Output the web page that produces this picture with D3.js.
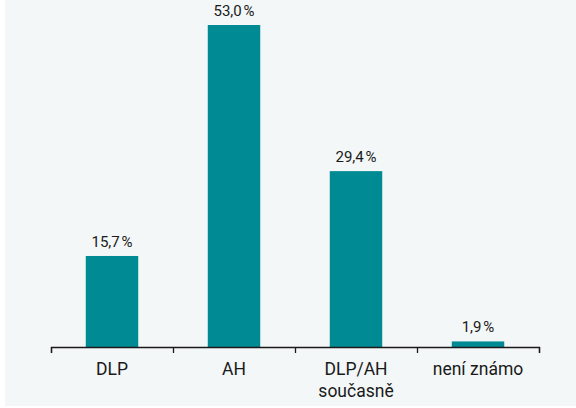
<!DOCTYPE html>
<html>
<head>
<meta charset="utf-8">
<script src="https://cdn.jsdelivr.net/npm/d3@7.9.0/dist/d3.min.js"></script>
<style>
  html, body { margin: 0; padding: 0; background: #ffffff; }
  svg { display: block; font-family: Roboto, "Noto Sans", sans-serif; }
</style>
</head>
<body>
<svg id="chart" width="576" height="408"></svg>
<script>
// data
const categories = ['DLP', 'AH', 'DLP/AH\nsoučasně', 'není známo'];
const values = [15.7, 53.0, 29.4, 1.9];
const valueLabels = ['15,7\u202F%', '53,0\u202F%', '29,4\u202F%', '1,9\u202F%'];

const svg = d3.select('#chart');
const W = 576, H = 408;

// panel background
svg.append('rect')
  .attr('x', 5).attr('y', 0)
  .attr('width', W - 5).attr('height', H - 2)
  .attr('fill', '#f3f7f7');

const plotLeft = 51, plotRight = 539, plotBase = 347, plotTop = 25;

// band scale for categories (no padding -> ticks at band edges)
const x = d3.scaleBand().domain(categories).range([plotLeft, plotRight]).padding(0);
const barW = x.bandwidth() * 0.43;

// y baseline sits a bit above zero in the original
const y = d3.scaleLinear().domain([1, d3.max(values)]).range([plotBase, plotTop]);

const data = categories.map((c, i) => ({ cat: c, value: values[i], label: valueLabels[i] }));

// bars
svg.append('g')
  .selectAll('rect')
  .data(data)
  .join('rect')
  .attr('x', d => x(d.cat) + (x.bandwidth() - barW) / 2)
  .attr('y', d => y(d.value))
  .attr('width', barW)
  .attr('height', d => plotBase - y(d.value))
  .attr('fill', '#008a94');

// value labels
svg.append('g')
  .selectAll('text')
  .data(data)
  .join('text')
  .attr('x', d => x(d.cat) + x.bandwidth() / 2)
  .attr('y', d => y(d.value) - 9)
  .attr('text-anchor', 'middle')
  .attr('font-size', 15)
  .attr('fill', '#1a1a1a')
  .text(d => d.label);

// axis line + boundary ticks (linear scale over band edges)
const xEdge = d3.scaleLinear().domain([0, categories.length]).range([plotLeft, plotRight]);
const edgeAxis = d3.axisBottom(xEdge)
  .tickValues(d3.range(categories.length + 1))
  .tickSize(6)
  .tickSizeOuter(6)
  .tickFormat('');

const gEdge = svg.append('g')
  .attr('transform', `translate(0,${plotBase})`)
  .call(edgeAxis);
gEdge.selectAll('path, line').attr('stroke', '#1a1a1a').attr('stroke-width', 1.3);

// category labels
const gLab = svg.append('g')
  .attr('transform', `translate(0,${plotBase})`)
  .call(d3.axisBottom(x).tickSize(0).tickPadding(0));
gLab.select('.domain').remove();
gLab.selectAll('.tick text').each(function (d) {
  const t = d3.select(this);
  const lines = d.split('\n');
  t.text(null)
    .attr('y', 0)
    .attr('dy', null)
    .attr('font-size', 17.5)
    .attr('font-family', 'Roboto, "Noto Sans", sans-serif')
    .attr('fill', '#1a1a1a');
  lines.forEach((ln, i) => {
    t.append('tspan')
      .attr('x', 0)
      .attr('y', 28 + i * 21.5)
      .text(ln);
  });
});
</script>
</body>
</html>
